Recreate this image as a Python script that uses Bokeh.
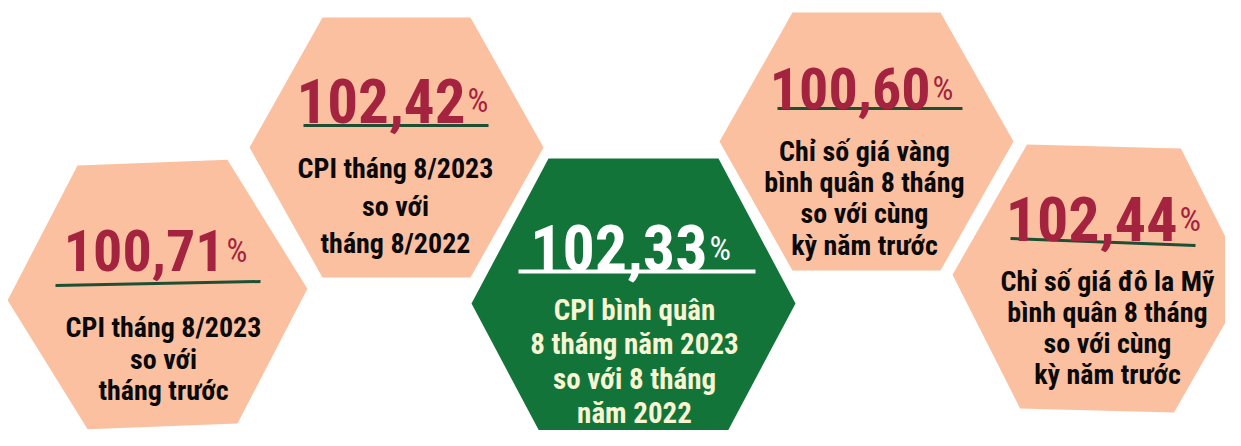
import math
from bokeh.plotting import figure
from bokeh.embed import file_html
from bokeh.resources import INLINE
from bokeh.models import Range1d, ColumnDataSource
from bokeh.core.properties import value

# ---------------- data ----------------
values = [100.71, 102.42, 102.33, 100.60, 102.44]
unit = "%"
labels = [
    ["CPI tháng 8/2023", "so với", "tháng trước"],
    ["CPI tháng 8/2023", "so với", "tháng 8/2022"],
    ["CPI bình quân", "8 tháng năm 2023", "so với 8 tháng", "năm 2022"],
    ["Chỉ số giá vàng", "bình quân 8 tháng", "so với cùng", "kỳ năm trước"],
    ["Chỉ số giá đô la Mỹ", "bình quân 8 tháng", "so với cùng", "kỳ năm trước"],
]
highlight = [False, False, True, False, False]

# ---------------- layout (screen pixels, y down) ----------------
hex_cx = [157, 396, 633, 866, 1100]
hex_cy = [294, 147, 303, 141, 278]
hex_rx = [150, 147, 162, 147, 148]
hex_sx = [75, 74, 85, 74, 77]
hex_ry = [132, 130, 145, 129, 132]
hex_rot = [-2.2, 0.0, 0.0, 0.0, 1.5]

num_split = [224, 465, 707, 930, 1177]
num_base = [250, 100, 247, 88, 218]
num_size = [58, 61, 64, 58, 62]
pct_size = [33, 33, 34, 33, 34]

line_x0 = [55, 303, 518, 777, 1010]
line_y0 = [285, 125, 271, 108, 238]
line_x1 = [260, 488, 755, 962, 1195]
line_y1 = [281, 125, 271, 108, 245]

lab_cx = [163, 395, 634, 864, 1107]
lab_y0 = [327, 168, 309.5, 150.5, 280.5]
lab_dy = [31.5, 37.5, 34.3, 31.4, 31.0]
lab_size = [28, 28, 29, 28, 28]

PEACH = "#FBC0A0"
GREEN = "#13743A"
RED = "#A4233E"
DARKLINE = "#1F4F33"
CREAM = "#F9F5D3"
BLACK = "#0A0A0A"

FONT = "Roboto Condensed"

p = figure(width=1225, height=430, output_backend="svg", toolbar_location=None,
           x_range=Range1d(0, 1225), y_range=Range1d(430, 0), min_border=0)
p.axis.visible = False
p.grid.visible = False
p.outline_line_color = None
p.background_fill_color = "white"
p.border_fill_color = "white"

# hexagons
xs, ys, fills = [], [], []
for i in range(len(values)):
    a = math.radians(hex_rot[i])
    pts = [(hex_rx[i], 0), (hex_sx[i], hex_ry[i]), (-hex_sx[i], hex_ry[i]),
           (-hex_rx[i], 0), (-hex_sx[i], -hex_ry[i]), (hex_sx[i], -hex_ry[i])]
    xs.append([hex_cx[i] + dx * math.cos(a) - dy * math.sin(a) for dx, dy in pts])
    ys.append([hex_cy[i] + dx * math.sin(a) + dy * math.cos(a) for dx, dy in pts])
    fills.append(GREEN if highlight[i] else PEACH)
p.patches(xs=xs, ys=ys, fill_color=fills, line_color=None)

# separator lines
p.segment(x0=line_x0, y0=line_y0, x1=line_x1, y1=line_y1,
          line_color=["white" if h else DARKLINE for h in highlight],
          line_width=[4 if h else 3 for h in highlight])

# numbers
num_src = ColumnDataSource(dict(
    x=num_split, y=num_base,
    text=[f"{v:.2f}".replace(".", ",") for v in values],
    size=[f"{s}px" for s in num_size],
    color=["white" if h else RED for h in highlight],
))
p.text(x="x", y="y", text="text", source=num_src, text_font=value(FONT),
       text_font_size="size", text_font_style="bold", text_color="color",
       text_align="right", text_baseline="alphabetic")

pct_src = ColumnDataSource(dict(
    x=[s + 2 for s in num_split], y=num_base,
    text=[unit] * len(values),
    size=[f"{s}px" for s in pct_size],
    color=["white" if h else RED for h in highlight],
))
p.text(x="x", y="y", text="text", source=pct_src, text_font=value(FONT),
       text_font_size="size", text_color="color",
       text_align="left", text_baseline="alphabetic")

# labels
lx, ly, lt, ls, lc = [], [], [], [], []
for i, lines in enumerate(labels):
    for j, t in enumerate(lines):
        lx.append(lab_cx[i])
        ly.append(lab_y0[i] + j * lab_dy[i])
        lt.append(t)
        ls.append(f"{lab_size[i]}px")
        lc.append(CREAM if highlight[i] else BLACK)
lab_src = ColumnDataSource(dict(x=lx, y=ly, text=lt, size=ls, color=lc))
p.text(x="x", y="y", text="text", source=lab_src, text_font=value(FONT),
       text_font_size="size", text_font_style="bold", text_color="color",
       text_align="center", text_baseline="alphabetic")

open("out.html", "w").write(file_html(p, INLINE))
